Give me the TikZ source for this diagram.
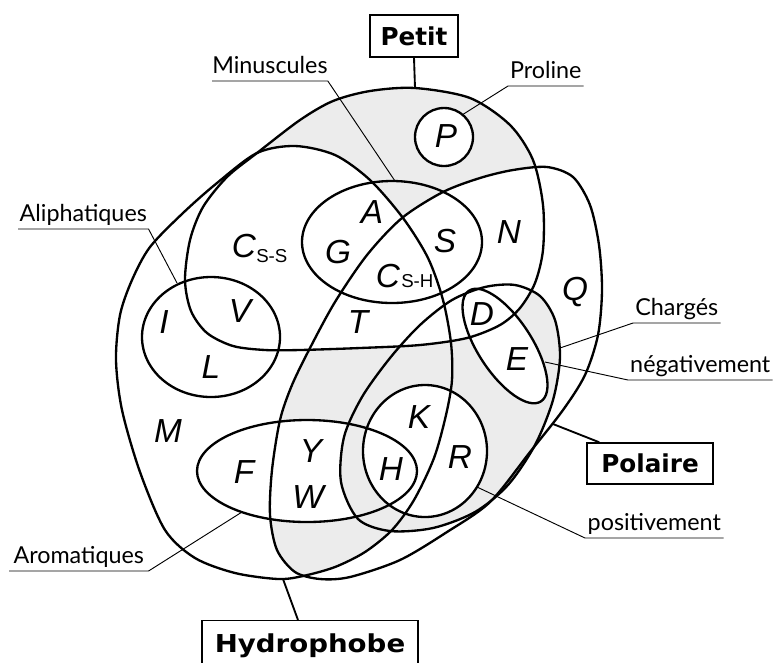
\documentclass[tikz,border=0pt]{standalone}
\usepackage{fontspec}
\setmainfont{Lato}
\newfontfamily\letfont{Liberation Sans}
\newfontfamily\boxfont{DejaVu Sans}
\usetikzlibrary{calc}
\definecolor{lightfill}{RGB}{236,236,236}
\begin{document}
\begin{tikzpicture}[x=0.75pt,y=-0.75pt,
  outline/.style={line width=1.75pt},
  leader/.style={line width=0.7pt},
  conn/.style={line width=1.4pt},
  letter/.style={font=\letfont\itshape\fontsize{25}{30}\selectfont, anchor=base, inner sep=0pt},
  sublet/.style={font=\letfont\fontsize{14}{16}\selectfont, anchor=base west, inner sep=0pt},
  lab/.style={font=\fontsize{17.5}{20}\selectfont, anchor=south west, inner xsep=0pt, inner ysep=5.5pt, text depth=0pt},
  tagbox/.style={draw, line width=1.1pt, font=\boxfont\bfseries\fontsize{18.5}{22}\selectfont, text height=13.5pt, text depth=0pt, inner sep=0pt, fill=white}
]
\useasboundingbox (0,0) rectangle (773,662);

\def\petitpath{plot[smooth cycle] coordinates {(415,88) (470,98) (510,125) (533,160) (543,205) (543,250) (535,283) (520,308) (500,325) (467,338) (420,345) (360,348) (300,350) (265,350) (233,346) (207,333) (191,311) (185,280) (190,240) (203,207) (227,177) (257,153) (300,120) (333,101) (370,91)}}
\def\hydpath{plot[smooth cycle] coordinates {(257,153) (295,146) (335,155) (370,180) (403,218) (428,258) (443,300) (451,343) (452,380) (446,415) (434,458) (414,500) (392,530) (365,552) (335,567) (303,576) (278,579) (235,573) (195,558) (165,530) (140,472) (122,410) (116,360) (120,315) (132,280) (150,247) (183,213) (217,183)}}
\def\polpath{plot[smooth cycle] coordinates {(547,167) (573,177) (590,205) (599,245) (602,290) (598,335) (585,375) (563,410) (530,452) (490,502) (447,532) (400,560) (350,577) (320,579) (295,572) (277,550) (270,515) (272,470) (280,420) (292,385) (310,348) (335,302) (367,255) (402,218) (443,192) (480,178) (513,170)}}
\def\chgpath{plot[smooth cycle] coordinates {(485,287) (515,285) (540,296) (555,320) (560,357) (553,400) (535,445) (508,485) (475,512) (433,528) (390,531) (358,519) (341,482) (344,437) (362,397) (390,358) (420,325) (452,300)}}
\def\aropath{(307,471) ellipse [x radius=110, y radius=51]}
\def\krpath{(425,451) ellipse [x radius=62, y radius=66]}
\def\minpath{(392,242) ellipse [x radius=90, y radius=61]}
\def\alipath{(211,337) ellipse [x radius=69, y radius=60]}
\def\propath{(444,137) circle [radius=29]}

% shading
\fill[lightfill] \petitpath;
\fill[white] \hydpath;
\fill[white] \polpath;
\begin{scope}
  \clip \polpath;
  \fill[lightfill] \hydpath;
\end{scope}
\fill[white] \aropath;
\fill[lightfill] \chgpath;
\begin{scope}
  \clip \polpath;
  \fill[white] \petitpath;
\end{scope}
\begin{scope}[rotate around={-57:(505,346)}]
  \fill[white] (505,346) ellipse [x radius=66, y radius=27];
\end{scope}
\fill[white] \krpath;
\fill[white] \propath;

% outlines
\draw[outline] \petitpath;
\draw[outline] \hydpath;
\draw[outline] \polpath;
\draw[outline] \chgpath;
\draw[outline] \aropath;
\draw[outline] \krpath;
\draw[outline] \minpath;
\draw[outline] \alipath;
\draw[outline] \propath;
\begin{scope}[rotate around={-57:(505,346)}]
  \draw[outline] (505,346) ellipse [x radius=66, y radius=27];
\end{scope}

% boxes
\node[tagbox, minimum width=66pt, minimum height=31.5pt] (petitbox) at (414,36) {Petit};
\node[tagbox, minimum width=94.5pt, minimum height=30.75pt] (polbox) at (650,463.5) {Polaire};
\node[tagbox, minimum width=162pt, minimum height=34.5pt, anchor=north] (hydbox) at (310,620) {\scalebox{1.12}[1]{Hydrophobe}};
\coordinate (petittop) at (415,88);
\coordinate (polend) at (553,424);
\coordinate (hydend) at (283,579);
\draw[conn] (petitbox.south) -- (petittop);
\draw[conn] ($(polbox.north west)+(13,0)$) -- (polend);
\draw[conn] ($(hydbox.north)+(-12,0)$) -- (hydend);

% labels
\node[lab, minimum width=86.25pt] (minlab) at (212,81) {Minuscules};
\node[lab, minimum width=56.25pt] (prolab) at (508,86) {Proline};
\node[lab, minimum width=97.5pt] (alilab) at (18,229) {Aliphatiques};
\node[lab, minimum width=65.25pt] (chglab) at (633,323) {Chargés};
\node[lab, minimum width=108pt] (neglab) at (628,380) {négativement};
\node[lab, minimum width=103.5pt] (poslab) at (585,538) {positivement};
\node[lab, minimum width=104.25pt] (arolab) at (9,571) {Aromatiques};
\coordinate (minend) at (395,181);
\coordinate (proend) at (462,115);
\coordinate (aliend) at (177,283);
\coordinate (chgend) at (560,348);
\coordinate (negend) at (545,362);
\coordinate (posend) at (477,487);
\coordinate (aroend) at (242,512);
\draw[leader] (minlab.south west) -- (minlab.south east) -- (minend);
\draw[leader] (prolab.south east) -- (prolab.south west) -- (proend);
\draw[leader] (alilab.south west) -- (alilab.south east) -- (aliend);
\draw[leader] (chglab.south east) -- (chglab.south west) -- (chgend);
\draw[leader] (neglab.south east) -- (neglab.south west) -- (negend);
\draw[leader] (poslab.south east) -- (poslab.south west) -- (posend);
\draw[leader] (arolab.south west) -- (arolab.south east) -- (aroend);

% letters
\node[letter] (lA) at (372,223) {A};
\node[letter] (lG) at (338,263) {G};
\node[letter] (lCss) at (244,257) {C};
\node[sublet] (sCss) at (256,262) {S-S};
\node[letter] (lCsh) at (388,287) {C};
\node[sublet] (sCsh) at (401,287) {S-H};
\node[letter] (lI) at (164,333) {I};
\node[letter] (lV) at (240,322) {V};
\node[letter] (lL) at (211,378) {L};
\node[letter] (lT) at (358,333) {T};
\node[letter] (lM) at (168,442) {M};
\node[letter] (lF) at (244,483) {F};
\node[letter] (lY) at (311,462) {Y};
\node[letter] (lW) at (308,508) {W};
\node[letter] (lH) at (391,480) {H};
\node[letter] (lK) at (419,428) {K};
\node[letter] (lR) at (460,468) {R};
\node[letter] (lS) at (445,252) {S};
\node[letter] (lN) at (509,243) {N};
\node[letter] (lQ) at (575,300) {Q};
\node[letter] (lD) at (482,325) {D};
\node[letter] (lE) at (517,370) {E};
\node[letter] (lP) at (446,147) {P};
\end{tikzpicture}
\end{document}
